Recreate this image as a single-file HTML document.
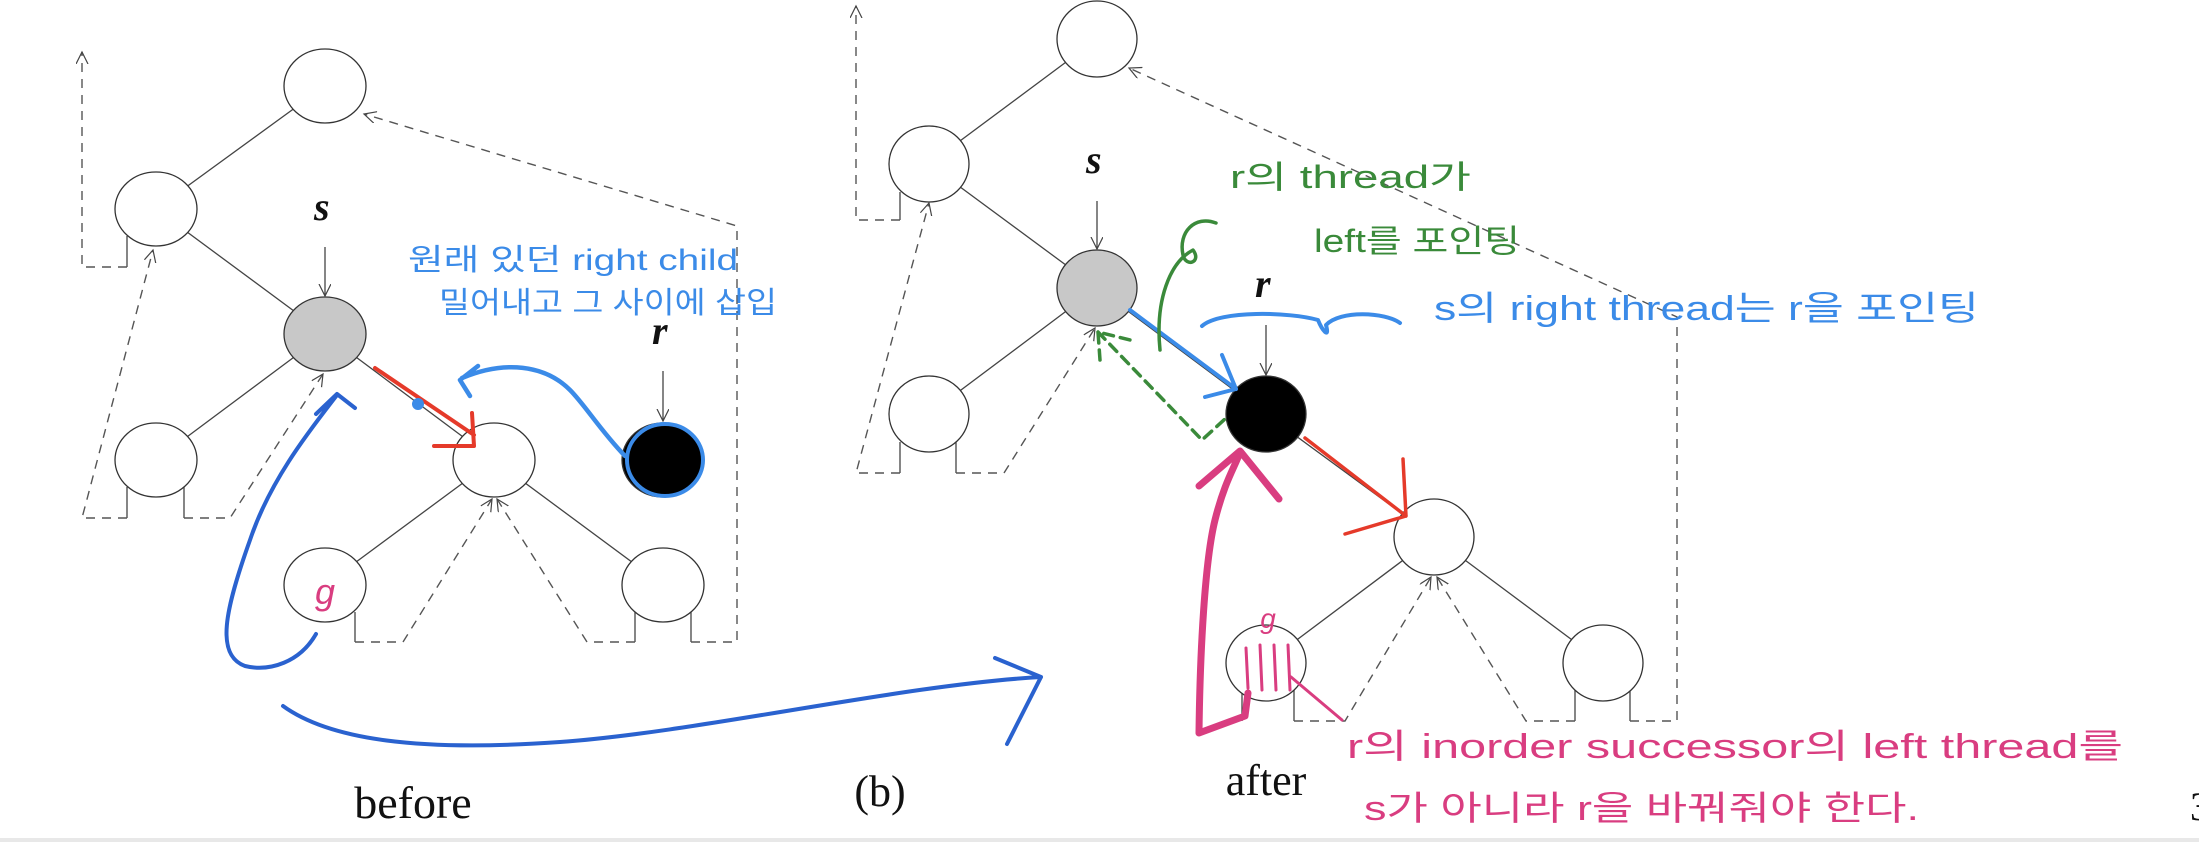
<!DOCTYPE html>
<html><head><meta charset="utf-8"><style>
html,body{margin:0;padding:0;background:#fff;}
svg{display:block;}
.e{fill:#fff;stroke:#333;stroke-width:1.3}
.l{stroke:#444;stroke-width:1.3;fill:none}
.d{stroke:#555;stroke-width:1.4;fill:none;stroke-dasharray:9 7}
.lbl{font-family:"Liberation Serif",serif;font-style:italic;font-weight:bold;font-size:40px;fill:#111}
.hw{font-family:"Liberation Sans","Noto Sans CJK KR",sans-serif;}
</style></head><body>
<svg width="2199" height="842" viewBox="0 0 2199 842" xmlns="http://www.w3.org/2000/svg">
<defs>
<marker id="a" markerWidth="14" markerHeight="14" refX="12" refY="6" orient="auto" markerUnits="userSpaceOnUse">
<path d="M0,0 L12,6 L0,12" fill="none" stroke="#444" stroke-width="1.2"/></marker>
</defs>
<!-- LEFT TREE -->
<g>
<line class="l" x1="325" y1="86" x2="156" y2="209"/>
<line class="l" x1="156" y1="209" x2="325" y2="334"/>
<line class="l" x1="325" y1="334" x2="156" y2="460"/>
<line class="l" x1="325" y1="334" x2="494" y2="460"/>
<line class="l" x1="494" y1="460" x2="325" y2="585"/>
<line class="l" x1="494" y1="460" x2="663" y2="585"/>
<!-- stubs -->
<path class="l" d="M127,236 V267 M127,487 V518 M184,487 V518 M355,612 V642 M635,612 V642 M691,612 V642"/>
<path class="d" d="M127,267 H82 V52" marker-end="url(#a)"/>
<path class="d" d="M127,518 H82 L153,250" marker-end="url(#a)"/>
<path class="d" d="M184,518 H230 L323,374" marker-end="url(#a)"/>
<path class="d" d="M355,642 H403 L492,499" marker-end="url(#a)"/>
<path class="d" d="M635,642 H587 L497,499" marker-end="url(#a)"/>
<path class="d" d="M691,642 H737 V226 L364,114" marker-end="url(#a)"/>
<ellipse class="e" cx="325" cy="86" rx="41" ry="37"/>
<ellipse class="e" cx="156" cy="209" rx="41" ry="37"/>
<ellipse class="e" cx="325" cy="334" rx="41" ry="37" style="fill:#c8c8c8"/>
<ellipse class="e" cx="156" cy="460" rx="41" ry="37"/>
<ellipse class="e" cx="494" cy="460" rx="41" ry="37"/>
<ellipse class="e" cx="663" cy="460" rx="41" ry="37" style="fill:#000"/>
<ellipse class="e" cx="325" cy="585" rx="41" ry="37"/>
<ellipse class="e" cx="663" cy="585" rx="41" ry="37"/>
<text class="lbl" x="314" y="220">s</text>
<line class="l" x1="325" y1="247" x2="325" y2="296" marker-end="url(#a)"/>
<text class="lbl" x="652" y="344">r</text>
<line class="l" x1="663" y1="371" x2="663" y2="421" marker-end="url(#a)"/>
<text x="413" y="818" text-anchor="middle" font-family="Liberation Serif,serif" font-size="46" fill="#111">before</text>
</g>
<!-- RIGHT TREE -->
<g>
<line class="l" x1="1097" y1="39" x2="929" y2="164"/>
<line class="l" x1="929" y1="164" x2="1097" y2="288"/>
<line class="l" x1="1097" y1="288" x2="929" y2="414"/>
<line class="l" x1="1097" y1="288" x2="1266" y2="414"/>
<line class="l" x1="1266" y1="414" x2="1434" y2="537"/>
<line class="l" x1="1434" y1="537" x2="1266" y2="663"/>
<line class="l" x1="1434" y1="537" x2="1603" y2="663"/>
<path class="l" d="M900,192 V220 M900,442 V473 M956,442 V473 M1242,690 V721 M1294,690 V721 M1575,690 V721 M1630,690 V721"/>
<path class="d" d="M900,220 H856 V6" marker-end="url(#a)"/>
<path class="d" d="M900,473 H856 L929,203" marker-end="url(#a)"/>
<path class="d" d="M956,473 H1004 L1095,328" marker-end="url(#a)"/>
<path class="d" d="M1294,721 H1345 L1431,577" marker-end="url(#a)"/>
<path class="d" d="M1575,721 H1526 L1437,577" marker-end="url(#a)"/>
<path class="d" d="M1630,721 H1677 V317 L1129,68" marker-end="url(#a)"/>
<ellipse class="e" cx="1097" cy="39" rx="40" ry="38"/>
<ellipse class="e" cx="929" cy="164" rx="40" ry="38"/>
<ellipse class="e" cx="1097" cy="288" rx="40" ry="38" style="fill:#c8c8c8"/>
<ellipse class="e" cx="929" cy="414" rx="40" ry="38"/>
<ellipse class="e" cx="1266" cy="414" rx="40" ry="38" style="fill:#000"/>
<ellipse class="e" cx="1434" cy="537" rx="40" ry="38"/>
<ellipse class="e" cx="1266" cy="663" rx="40" ry="38"/>
<ellipse class="e" cx="1603" cy="663" rx="40" ry="38"/>
<text class="lbl" x="1086" y="173">s</text>
<line class="l" x1="1097" y1="201" x2="1097" y2="249" marker-end="url(#a)"/>
<text class="lbl" x="1255" y="297">r</text>
<line class="l" x1="1266" y1="325" x2="1266" y2="375" marker-end="url(#a)"/>
<text x="880" y="806" text-anchor="middle" font-family="Liberation Serif,serif" font-size="44" fill="#111">(b)</text>
<text x="1266" y="795" text-anchor="middle" font-family="Liberation Serif,serif" font-size="44" fill="#111">after</text>
</g>
<!-- annotations left -->
<g fill="none" stroke-linecap="round" stroke-linejoin="round">
<path d="M375,368 L474,435 M472,413 L474,446 L434,446" stroke="#e53a2a" stroke-width="4"/>
<circle cx="418" cy="404" r="6" fill="#3b8be8" stroke="none"/>
<path d="M625,456 C600,430 585,405 570,390 C545,365 505,360 462,378 M478,366 L460,380 L470,396" stroke="#3b8be8" stroke-width="4.5"/>
<ellipse cx="665" cy="460" rx="38" ry="36" stroke="#3b8be8" stroke-width="4"/>
<path d="M316,634 C300,662 270,672 245,666 C215,655 225,610 250,540 C270,480 310,430 337,395 M316,414 L337,394 L355,408" stroke="#2a62cf" stroke-width="4"/>
<path d="M283,706 C330,740 420,752 560,742 C700,732 900,685 1041,677 M995,658 L1041,677 L1007,744" stroke="#2a62cf" stroke-width="4"/>
</g>
<text class="hw" x="325" y="604" text-anchor="middle" font-size="36" fill="#d93d80" font-style="italic">g</text>
<text class="hw" x="408" y="270" font-size="30" fill="#3b8be8" textLength="330" lengthAdjust="spacingAndGlyphs">원래 있던 right child</text>
<text class="hw" x="439" y="313" font-size="30" fill="#3b8be8" textLength="338" lengthAdjust="spacingAndGlyphs">밀어내고 그 사이에 삽입</text>
<!-- annotations right -->
<g fill="none" stroke-linecap="round" stroke-linejoin="round">
<path d="M1130,310 L1236,389 M1222,355 L1236,389 L1205,397" stroke="#3b8be8" stroke-width="4"/>
<path d="M1098,332 L1202,440 L1225,419 M1100,360 L1098,332 L1130,340" stroke="#3a8a3a" stroke-width="3.5" stroke-dasharray="10 7"/>
<path d="M1216,223 C1195,215 1178,232 1183,255 C1186,268 1202,262 1193,250 C1170,262 1155,300 1160,350" stroke="#3a8a3a" stroke-width="3.5"/>
<path d="M1202,326 C1220,310 1290,312 1318,320 C1322,330 1330,340 1326,325 C1340,310 1385,312 1400,323" stroke="#3b8be8" stroke-width="4"/>
<path d="M1305,438 L1406,516 M1403,459 L1406,516 L1345,534" stroke="#e53a2a" stroke-width="3.5"/>
<path d="M1199,733 C1200,650 1205,560 1215,520 C1225,480 1236,465 1240,452 M1199,486 L1240,451 L1279,499 M1199,733 L1245,716 L1248,693" stroke="#d93d80" stroke-width="7"/>
<path d="M1246,648 L1248,688 M1260,645 L1262,690 M1274,645 L1276,690 M1288,645 L1290,690 M1291,677 L1342,720" stroke="#d93d80" stroke-width="3"/>
</g>
<text class="hw" x="1268" y="628" text-anchor="middle" font-size="28" fill="#d93d80" font-style="italic">g</text>
<text class="hw" x="1230" y="188" font-size="32" fill="#3a8a3a" textLength="241" lengthAdjust="spacingAndGlyphs">r의 thread가</text>
<text class="hw" x="1314" y="252" font-size="32" fill="#3a8a3a" textLength="206" lengthAdjust="spacingAndGlyphs">left를 포인팅</text>
<text class="hw" x="1434" y="320" font-size="34" fill="#3b8be8" textLength="545" lengthAdjust="spacingAndGlyphs">s의  right thread는 r을 포인팅</text>
<text class="hw" x="1347" y="758" font-size="34" fill="#d93d80" textLength="776" lengthAdjust="spacingAndGlyphs">r의 inorder successor의 left thread를</text>
<text class="hw" x="1364" y="820" font-size="34" fill="#d93d80" textLength="555" lengthAdjust="spacingAndGlyphs">s가 아니라 r을 바꿔줘야 한다.</text>
<text x="2190" y="820" font-family="Liberation Serif,serif" font-size="40" fill="#111">3</text>
<rect x="0" y="838" width="2199" height="4" fill="#e8e8e8"/>
</svg>
</body></html>
